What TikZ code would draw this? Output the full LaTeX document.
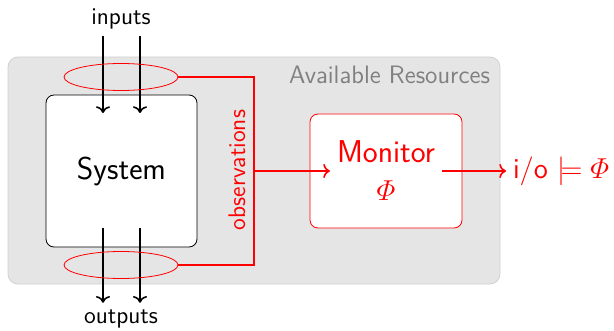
\documentclass[tikz,border=0pt]{standalone}
\usepackage{amsmath}
\usepackage{tikz}
\usetikzlibrary{arrows.meta, positioning, shapes.geometric}
\renewcommand{\familydefault}{\sfdefault}

\begin{document}
\begin{tikzpicture}[
    x=0.5pt, y=-0.5pt,
    area/.style={rectangle, draw=black!18, fill=black!10, rounded corners=5pt,
                 minimum width=246pt, minimum height=113.5pt},
    sysbox/.style={rectangle, draw, fill=white, rounded corners=4pt,
                   minimum width=75.5pt, minimum height=76pt},
    monbox/.style={rectangle, draw=red, fill=white, rounded corners=4pt,
                   minimum width=76pt, minimum height=57pt},
    tap/.style={ellipse, draw=red, line width=0.4pt,
                minimum width=57pt, minimum height=13.5pt},
    sig/.style={->, thick},
    obs/.style={thick, red},
    lbl/.style={font=\large},
    big/.style={font=\fontsize{15.8}{19}\selectfont},
  ]
    \useasboundingbox (0,0) rectangle (614,331);

    \node[area] (res) at (254,170.5) {};
    \node[anchor=north east, text=black!50, inner sep=0pt,
          font=\fontsize{12.6}{15}\selectfont] (reslbl)
      at ([xshift=-5pt, yshift=-4.5pt]res.north east) {Available Resources};

    \node[sysbox, big] (sys) at (121.5,171) {System};
    \node[lbl] (inputs) at (121,19) {inputs};
    \node[lbl] (outputs) at (121,319) {outputs};

    % signals in and out
    \coordinate (i1) at (103,113);
    \coordinate (i2) at (140,113);
    \coordinate (o1) at (103,228);
    \coordinate (o2) at (140,228);
    \draw[sig] (i1 |- inputs.south) -- (i1);
    \draw[sig] (i2 |- inputs.south) -- (i2);
    \draw[sig] (o1) -- (o1 |- outputs.north);
    \draw[sig] (o2) -- (o2 |- outputs.north);

    \node[tap] (tapin) at (121,77) {};
    \node[tap] (tapout) at (121,265) {};

    % observation bus
    \coordinate (bus) at (254,171);
    \draw[obs] (tapin.east) -| (bus) |- (tapout.east);
    \node[lbl, text=red, rotate=90] (obslbl) at (237,170) {observations};

    \node[monbox] (monbox) at (386,171) {};
    \node[big, text=red, align=center] (mon) at (386,171)
      {Monitor\\ $\varPhi$};
    \node[font=\Large, text=red, anchor=west] (io) at (506,171)
      {i/o $\models \varPhi$};

    \draw[obs, ->] (bus) -- (mon.west);
    \draw[obs, ->] (mon.east) -- (io.west);
  \end{tikzpicture}
\end{document}
